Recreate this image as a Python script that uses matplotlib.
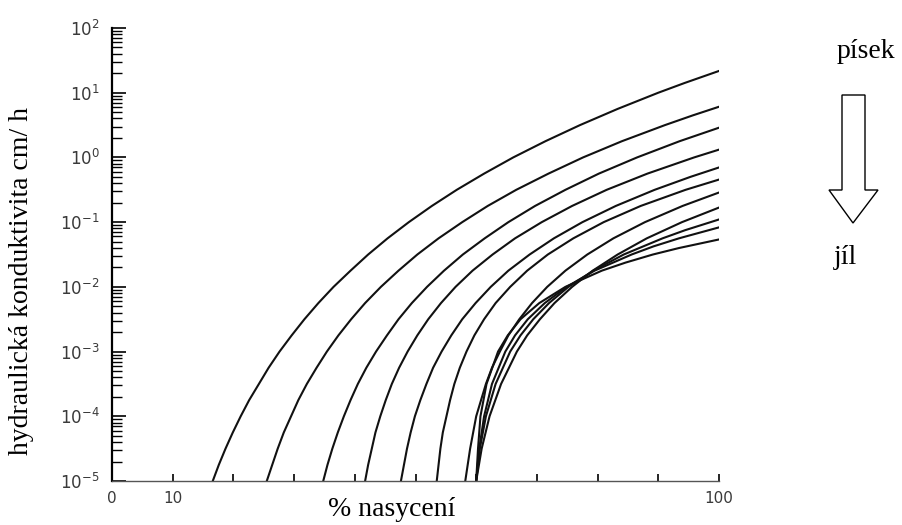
import numpy as np
import matplotlib.pyplot as plt
from matplotlib.patches import Polygon

# hodnoty: nasycení (%) a hydraulická konduktivita (cm/h)
# křivky od písku (nahoře) po jíl (dole)
sat_1 = [16.6, 17.6, 18.7, 19.9, 21.2, 22.6, 24.2, 25.8, 27.6, 29.6, 31.7, 34.0, 36.5, 39.3,
         42.2, 45.4, 48.9, 52.7, 56.8, 61.3, 66.1, 71.4, 77.1, 83.3, 90.0, 94.3, 100]
k_1 = [1e-5, 1.78e-5, 3.16e-5, 5.62e-5, 1e-4, 1.78e-4, 3.16e-4, 5.62e-4, 1e-3, 1.78e-3,
       3.16e-3, 5.62e-3, 1e-2, 1.78e-2, 3.16e-2, 5.62e-2, 0.1, 0.178, 0.316, 0.562, 1,
       1.78, 3.16, 5.62, 10, 14.1, 21.7]

sat_2 = [25.5, 26.4, 27.3, 28.3, 29.5, 30.7, 32.1, 33.7, 35.4, 37.3, 39.4, 41.7, 44.3, 47.2,
         50.3, 53.8, 57.7, 61.9, 66.6, 71.9, 77.6, 84.0, 91.1, 95.7, 100]
k_2 = [1e-5, 1.78e-5, 3.16e-5, 5.62e-5, 1e-4, 1.78e-4, 3.16e-4, 5.62e-4, 1e-3, 1.78e-3,
       3.16e-3, 5.62e-3, 1e-2, 1.78e-2, 3.16e-2, 5.62e-2, 0.1, 0.178, 0.316, 0.562, 1,
       1.78, 3.16, 4.47, 6.07]

sat_3 = [34.8, 35.5, 36.3, 37.2, 38.2, 39.3, 40.5, 41.9, 43.5, 45.3, 47.2, 49.4, 51.9, 54.7,
         57.8, 61.4, 65.3, 69.7, 74.7, 80.2, 86.5, 93.5, 100]
k_3 = [1e-5, 1.78e-5, 3.16e-5, 5.62e-5, 1e-4, 1.78e-4, 3.16e-4, 5.62e-4, 1e-3, 1.78e-3,
       3.16e-3, 5.62e-3, 1e-2, 1.78e-2, 3.16e-2, 5.62e-2, 0.1, 0.178, 0.316, 0.562, 1,
       1.78, 2.88]

sat_4 = [41.7, 42.2, 42.8, 43.4, 44.2, 45.1, 46.1, 47.3, 48.7, 50.3, 52.1, 54.2, 56.6, 59.4,
         62.7, 66.4, 70.8, 75.8, 81.5, 88.2, 95.9, 100]
k_4 = [1e-5, 1.78e-5, 3.16e-5, 5.62e-5, 1e-4, 1.78e-4, 3.16e-4, 5.62e-4, 1e-3, 1.78e-3,
       3.16e-3, 5.62e-3, 1e-2, 1.78e-2, 3.16e-2, 5.62e-2, 0.1, 0.178, 0.316, 0.562, 1, 1.32]

sat_5 = [47.6, 48.1, 48.6, 49.2, 49.9, 50.8, 51.8, 52.9, 54.3, 55.9, 57.7, 59.9, 62.4, 65.3,
         68.8, 72.8, 77.5, 83.0, 89.4, 95.3, 100]
k_5 = [1e-5, 1.78e-5, 3.16e-5, 5.62e-5, 1e-4, 1.78e-4, 3.16e-4, 5.62e-4, 1e-3, 1.78e-3,
       3.16e-3, 5.62e-3, 1e-2, 1.78e-2, 3.16e-2, 5.62e-2, 0.1, 0.178, 0.316, 0.501, 0.70]

sat_6 = [53.5, 53.8, 54.1, 54.5, 55.1, 55.7, 56.4, 57.3, 58.4, 59.7, 61.3, 63.2, 65.6, 68.4,
         71.8, 76.0, 81.0, 87.1, 94.5, 100]
k_6 = [1e-5, 1.78e-5, 3.16e-5, 5.62e-5, 1e-4, 1.78e-4, 3.16e-4, 5.62e-4, 1e-3, 1.78e-3,
       3.16e-3, 5.62e-3, 1e-2, 1.78e-2, 3.16e-2, 5.62e-2, 0.1, 0.178, 0.316, 0.455]

sat_7 = [58.2, 58.6, 59.0, 59.5, 60.0, 60.8, 61.6, 62.6, 63.9, 65.3, 67.1, 69.2, 71.7, 74.7,
         78.3, 82.6, 87.8, 94.0, 100]
k_7 = [1e-5, 1.78e-5, 3.16e-5, 5.62e-5, 1e-4, 1.78e-4, 3.16e-4, 5.62e-4, 1e-3, 1.78e-3,
       3.16e-3, 5.62e-3, 1e-2, 1.78e-2, 3.16e-2, 5.62e-2, 0.1, 0.178, 0.287]

sat_8 = [60.0, 60.9, 62.2, 64.1, 66.7, 68.4, 70.5, 72.9, 75.8, 79.2, 83.3, 88.1, 93.9, 100]
k_8 = [1e-5, 3.16e-5, 1e-4, 3.16e-4, 1e-3, 1.78e-3, 3.16e-3, 5.62e-3, 1e-2, 1.78e-2,
       3.16e-2, 5.62e-2, 0.1, 0.168]

sat_9 = [60.0, 60.6, 61.6, 63.2, 65.6, 67.3, 69.4, 72.0, 75.2, 79.3, 84.3, 90.7, 94.4, 100]
k_9 = [1e-5, 3.16e-5, 1e-4, 3.16e-4, 1e-3, 1.78e-3, 3.16e-3, 5.62e-3, 1e-2, 1.78e-2,
       3.16e-2, 5.62e-2, 0.075, 0.110]

sat_10 = [60.0, 60.5, 61.3, 62.6, 64.8, 66.4, 68.5, 71.3, 74.9, 79.5, 85.6, 89.2, 93.4, 100]
k_10 = [1e-5, 3.16e-5, 1e-4, 3.16e-4, 1e-3, 1.78e-3, 3.16e-3, 5.62e-3, 1e-2, 1.78e-2,
        3.16e-2, 4.22e-2, 5.62e-2, 0.083]

sat_11 = [60.0, 60.3, 60.7, 61.7, 63.6, 65.2, 67.3, 70.4, 74.7, 80.7, 84.6, 89.1, 93.4, 100]
k_11 = [1e-5, 3.16e-5, 1e-4, 3.16e-4, 1e-3, 1.78e-3, 3.16e-3, 5.62e-3, 1e-2, 1.78e-2,
        2.37e-2, 3.16e-2, 3.98e-2, 0.054]

x_ticks = [0, 10, 20, 30, 40, 50, 60, 70, 80, 90, 100]
x_labels = ['0', '10', '', '', '', '', '', '', '', '', '100']
y_ticks = [1e-5, 1e-4, 1e-3, 1e-2, 1e-1, 1e0, 1e1, 1e2]
y_labels = ['$10^{-5}$', '$10^{-4}$', '$10^{-3}$', '$10^{-2}$', '$10^{-1}$',
            '$10^{0}$', '$10^{1}$', '$10^{2}$']

vsechny_sat = [sat_1, sat_2, sat_3, sat_4, sat_5, sat_6, sat_7, sat_8, sat_9, sat_10, sat_11]
vsechny_k = [k_1, k_2, k_3, k_4, k_5, k_6, k_7, k_8, k_9, k_10, k_11]

fig = plt.figure(figsize=(9.02, 5.25), dpi=100)
ax = fig.add_axes([112/902, 44/525, 607/902, 453/525])

for s, k in zip(vsechny_sat, vsechny_k):
    ax.plot(s, k, color='#111111', linewidth=1.5, solid_joinstyle='round')

ax.set_yscale('log')
ax.set_xlim(0, 100)
ax.set_ylim(1e-5, 1e2)

ax.set_xticks(x_ticks)
ax.set_xticklabels(x_labels)
ax.set_yticks(y_ticks)
ax.set_yticklabels(y_labels)

ax.spines['top'].set_visible(False)
ax.spines['right'].set_visible(False)
ax.spines['left'].set_linewidth(1.6)
ax.spines['bottom'].set_linewidth(1.0)
ax.spines['bottom'].set_color('#555555')

ax.tick_params(axis='y', which='major', direction='in', length=10, width=1.2,
               labelsize=12, labelcolor='#3a3a3a', pad=9)
ax.tick_params(axis='y', which='minor', direction='in', length=7, width=1.0)
ax.tick_params(axis='x', which='major', direction='in', length=5, width=1.2,
               labelsize=11, labelcolor='#3a3a3a', pad=7)

# popisky os (Times)
fig.text(22/902, 1 - 281/525, 'hydraulická konduktivita cm/ h', rotation=90,
         ha='center', va='center', family='Liberation Serif', fontsize=20)
fig.text(392/902, 1 - 510/525, '% nasycení', ha='center', va='center',
         family='Liberation Serif', fontsize=20)

# šipka písek -> jíl
over = fig.add_axes([0, 0, 1, 1], facecolor='none')
over.set_xlim(0, 902)
over.set_ylim(525, 0)
over.axis('off')
sipka = [(842, 95), (865, 95), (865, 190), (878, 190), (853, 223),
         (829, 190), (842, 190)]
over.add_patch(Polygon(sipka, closed=True, facecolor='white',
                       edgecolor='black', linewidth=1.0))
over.text(866, 51, 'písek', ha='center', va='center',
          family='Liberation Serif', fontsize=20)
over.text(845, 258, 'jíl', ha='center', va='center',
          family='Liberation Serif', fontsize=20)

fig.savefig('out.png', dpi=100)
